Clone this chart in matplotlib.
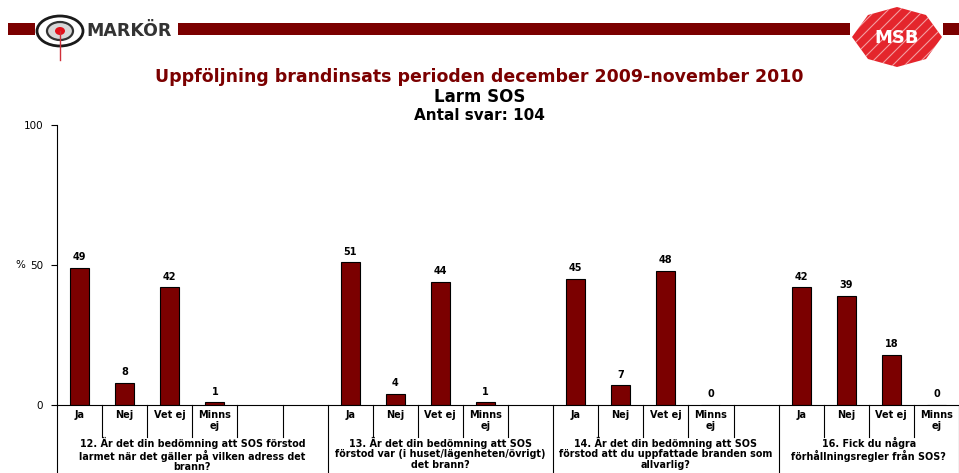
import matplotlib
matplotlib.use("Agg")
import matplotlib.pyplot as plt
from matplotlib.patches import Rectangle, Ellipse, Polygon
from matplotlib.lines import Line2D

# Survey data
questions = [
    "12. Är det din bedömning att SOS förstod\nlarmet när det gäller på vilken adress det\nbrann?",
    "13. Är det din bedömning att SOS\nförstod var (i huset/lägenheten/övrigt)\ndet brann?",
    "14. Är det din bedömning att SOS\nförstod att du uppfattade branden som\nallvarlig?",
    "16. Fick du några\nförhållningsregler från SOS?",
]
answers = ["Ja", "Nej", "Vet ej", "Minns\nej"]
q12_values = [49, 8, 42, 1]
q13_values = [51, 4, 44, 1]
q14_values = [45, 7, 48, 0]
q16_values = [42, 39, 18, 0]
slots_per_group = [6, 5, 5, 4]

title = "Uppföljning brandinsats perioden december 2009-november 2010"
subtitle = "Larm SOS"
count_text = "Antal svar: 104"
y_ticks = [0, 50, 100]

W, H = 959, 473
DARK_RED = "#7B0000"

fig = plt.figure(figsize=(W / 100, H / 100), dpi=100)
fig.patch.set_facecolor("white")


def fx(px):
    return px / W


def fy(py):
    return 1 - py / H


# Plot area
ax_left, ax_right, ax_top, ax_bottom = 57, 959, 125, 405
ax = fig.add_axes([fx(ax_left), fy(ax_bottom), fx(ax_right - ax_left),
                   (ax_bottom - ax_top) / H])
n_slots = sum(slots_per_group)
ax.set_xlim(-0.5, n_slots - 0.5)
ax.set_ylim(0, 100)
for s in ["top", "right"]:
    ax.spines[s].set_visible(False)
for s in ["left", "bottom"]:
    ax.spines[s].set_linewidth(0.8)
ax.set_xticks([])
ax.set_yticks(y_ticks)
ax.set_yticklabels([str(t) for t in y_ticks], fontsize=7.5)
ax.tick_params(axis="y", length=4, width=0.8, pad=6)
ax.text((20 - ax_left) / (ax_right - ax_left), 50, "%",
        transform=ax.get_yaxis_transform(), fontsize=7.5, ha="center", va="center")

px_per_unit = (ax_bottom - ax_top) / 100.0


def py_to_data(py):
    return -(py - ax_bottom) / px_per_unit


sep_short = py_to_data(437)
sep_long = py_to_data(473)
cat_y = py_to_data(410)
grp_y = py_to_data(437)

series = [q12_values, q13_values, q14_values, q16_values]
start = 0
for g, (vals, nslots, question) in enumerate(zip(series, slots_per_group, questions)):
    xs = [start + i for i in range(len(vals))]
    ax.bar(xs, vals, width=0.42, color=DARK_RED, edgecolor="black", linewidth=0.8)
    for x, v in zip(xs, vals):
        ax.text(x, v + 2.0, str(v), ha="center", va="bottom", fontsize=7,
                fontweight="bold")
    for i in range(nslots):
        label = answers[i] if i < len(answers) else ""
        if label:
            ax.text(start + i, cat_y, label, ha="center", va="top", fontsize=7,
                    fontweight="bold", clip_on=False, linespacing=1.15)
        if i > 0:
            ax.add_line(Line2D([start + i - 0.5] * 2, [0, sep_short], color="black",
                               linewidth=0.8, clip_on=False))
    # group boundary lines
    ax.add_line(Line2D([start - 0.5] * 2, [0, sep_long], color="black",
                       linewidth=0.8, clip_on=False))
    center = start + (nslots - 1) / 2
    ax.text(center, grp_y, question, ha="center", va="top", fontsize=6.9,
            fontweight="bold", clip_on=False, linespacing=1.05)
    start += nslots
ax.add_line(Line2D([start - 0.5] * 2, [0, sep_long], color="black",
                   linewidth=0.8, clip_on=False))

# Titles
fig.text(0.5, fy(77), title, ha="center", va="center", fontsize=12.5,
         fontweight="bold", color=DARK_RED)
fig.text(0.5, fy(97), subtitle, ha="center", va="center", fontsize=12,
         fontweight="bold", color="black")
fig.text(0.5, fy(116), count_text, ha="center", va="center", fontsize=11,
         fontweight="bold", color="black")

# Header band
band_top, band_bot = 23, 35
for x0, x1 in [(8, 35), (178, 850), (943, 959)]:
    fig.patches.append(Rectangle((fx(x0), fy(band_bot)), fx(x1 - x0),
                                 (band_bot - band_top) / H, transform=fig.transFigure,
                                 facecolor=DARK_RED, edgecolor="none"))

# MARKÖR emblem
cx, cy = 60, 31


def ell(rx, ry, **kw):
    return Ellipse((fx(cx), fy(cy)), 2 * rx / W, 2 * ry / H,
                   transform=fig.transFigure, **kw)


fig.patches.append(ell(23, 15, facecolor="white", edgecolor="#1a1a1a", linewidth=2.0))
fig.patches.append(ell(13, 9, facecolor="#d8d8d8", edgecolor="#333333", linewidth=1.6))
fig.patches.append(ell(5, 4, facecolor="#e3101a", edgecolor="none"))
fig.lines.append(Line2D([fx(cx), fx(cx)], [fy(cy), fy(60)], transform=fig.transFigure,
                        color="#d0303a", linewidth=1.0))
fig.text(fx(86), fy(31), "MARKÖR", ha="left", va="center", fontsize=12.5,
         fontweight="bold", color="#333333")

# MSB emblem
pts = [(852, 37), (868, 15), (897, 7), (926, 15), (942, 37), (926, 59), (897, 67), (868, 59)]
msb = Polygon([(fx(x), fy(y)) for x, y in pts], closed=True, transform=fig.transFigure,
              facecolor="#e4252c", edgecolor="none")
fig.patches.append(msb)
for k in range(-6, 7):
    x0 = 897 + k * 12
    ln = Line2D([fx(x0 - 30), fx(x0 + 30)], [fy(67), fy(7)], transform=fig.transFigure,
                color="white", linewidth=0.8, alpha=0.55)
    ln.set_clip_path(msb)
    fig.lines.append(ln)
fig.text(fx(897), fy(38), "MSB", ha="center", va="center", fontsize=13,
         fontweight="bold", color="white")

fig.savefig("out.png", dpi=100, facecolor="white")
